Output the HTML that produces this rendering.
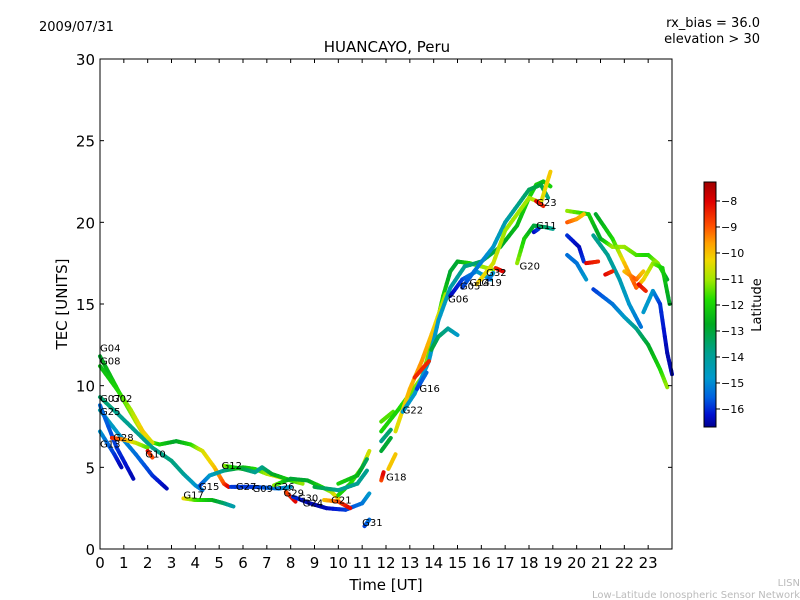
<!DOCTYPE html>
<html><head><meta charset="utf-8"><style>
body{margin:0;background:#fff;font-family:"DejaVu Sans","Liberation Sans",sans-serif;}
svg{display:block}
</style></head><body>
<svg id="chart" width="800" height="600" xmlns="http://www.w3.org/2000/svg" font-family="DejaVu Sans, Liberation Sans, sans-serif">
<defs><linearGradient id="cbg" x1="0" y1="0" x2="0" y2="1">
<stop offset="0" stop-color="#a00000"/><stop offset="0.08" stop-color="#e00000"/><stop offset="0.18" stop-color="#ff5000"/><stop offset="0.25" stop-color="#ffa000"/><stop offset="0.32" stop-color="#f0d800"/><stop offset="0.40" stop-color="#a0e800"/><stop offset="0.48" stop-color="#20dd00"/><stop offset="0.58" stop-color="#00aa20"/><stop offset="0.70" stop-color="#00a090"/><stop offset="0.80" stop-color="#0099cc"/><stop offset="0.88" stop-color="#0060e0"/><stop offset="0.95" stop-color="#0010d0"/><stop offset="1" stop-color="#000090"/></linearGradient></defs>
<text x="39" y="31" font-size="13">2009/07/31</text>
<text x="760" y="27" font-size="13" text-anchor="end">rx_bias = 36.0</text>
<text x="760" y="43" font-size="13" text-anchor="end">elevation &gt; 30</text>
<text x="387" y="52" font-size="15" text-anchor="middle">HUANCAYO, Peru</text>
<g id="marks"></g>
<rect x="100" y="59" width="572" height="490" fill="none" stroke="#000" stroke-width="1"/>
<g id="axes"></g>
<text x="386" y="590" font-size="15" text-anchor="middle">Time [UT]</text>
<text transform="translate(67,304) rotate(-90)" font-size="15" text-anchor="middle">TEC [UNITS]</text>
<rect x="704" y="182" width="12" height="245" fill="url(#cbg)" stroke="#000" stroke-width="1"/>
<g id="cbticks"></g>
<text transform="translate(761,305) rotate(-90)" font-size="13" text-anchor="middle">Latitude</text>
<text x="800" y="586" font-size="10" fill="#bbb" text-anchor="end">LISN</text>
<text x="800" y="598" font-size="10" fill="#bbb" text-anchor="end">Low-Latitude Ionospheric Sensor Network</text>
</svg>
<script>
const xTicks=[0,1,2,3,4,5,6,7,8,9,10,11,12,13,14,15,16,17,18,19,20,21,22,23];
const yTicks=[0,5,10,15,20,25,30];
const cbTicks=[-8,-9,-10,-11,-12,-13,-14,-15,-16];
// tracks: [hour, tec, latitude]
const tracks=[
[[0,11.8,-13],[0.8,9.6,-12],[1.5,7.8,-11],[2.0,6.6,-10.5],[2.5,6.4,-12],[3.2,6.6,-13],[3.8,6.4,-12],[4.3,6.0,-10.5],[4.8,5.0,-10],[5.2,4.0,-9],[5.4,3.8,-8]],
[[0,11.2,-12.5],[0.7,9.8,-12],[1.3,8.5,-11],[1.8,7.2,-10],[2.2,6.5,-10.5]],
[[0,9.3,-13.5],[0.8,8.2,-14],[1.5,7.2,-14],[2.2,6.2,-14],[3,5.4,-13.8],[3.5,4.6,-14],[4,3.9,-15],[4.3,3.6,-15.5]],
[[0,8.5,-14.5],[0.8,7,-15],[1.5,5.8,-15.5],[2.2,4.5,-16],[2.8,3.7,-16.5]],
[[0,7.2,-15],[0.6,5.8,-16],[0.9,5,-16.5]],
[[0,8.8,-15.5],[0.7,6.2,-16],[1.4,4.3,-16.5]],
[[0.5,6.8,-8.3],[1,6.7,-9.5],[1.5,6.5,-10.5],[2,6.2,-11.5]],
[[2,6.0,-8],[2.2,5.6,-9]],
[[3.5,3.1,-10],[4,3.0,-11.5],[4.7,3.0,-12.5],[5.2,2.8,-13.5],[5.6,2.6,-14.5]],
[[4.2,3.9,-16],[4.6,4.5,-15],[5.2,4.8,-14],[6,5.0,-12.5],[6.5,4.9,-12],[7,4.6,-11],[7.8,4.3,-10]],
[[5.2,5.1,-11],[6,4.9,-13],[6.5,4.7,-14],[6.8,5.0,-14],[7.2,4.6,-13],[8,4.2,-12],[8.5,4.0,-11]],
[[5.5,3.8,-16],[6.5,3.8,-16],[7.5,3.7,-15.5],[8,3.8,-15]],
[[7.3,3.9,-11],[8,4.3,-13],[8.7,4.2,-13],[9.3,3.8,-12],[9.7,3.5,-11],[10,3.1,-10]],
[[7.8,3.5,-9],[8.2,2.9,-8]],
[[8.1,3.2,-16],[8.8,2.8,-16.5],[9.5,2.5,-16.5],[10.3,2.4,-16],[11,2.8,-15.5],[11.3,3.4,-15]],
[[9.4,3.0,-10],[10,2.9,-9],[10.5,2.5,-8]],
[[10,3.3,-12],[10.5,4.0,-12],[11,5.0,-11],[11.3,6.0,-10.5]],
[[9,3.8,-13],[10,3.6,-14],[10.8,4.0,-14],[11.2,4.8,-14]],
[[10,4.0,-12],[10.8,4.5,-12.5],[11.2,5.5,-13.5]],
[[11.1,1.4,-16],[11.3,1.8,-15.5]],
[[11.8,4.2,-9],[11.9,4.7,-8]],
[[11.8,6.6,-14],[12.2,7.3,-13.5]],
[[11.8,6.0,-13],[12.2,6.8,-13]],
[[11.8,7.8,-11.5],[12.3,8.4,-11.5]],
[[12.1,4.9,-10],[12.4,5.8,-10]],
[[11.8,7.2,-12],[12.5,8.5,-12],[13,9.5,-11.5],[13.5,10.5,-11],[14,13,-11.5],[14.4,15.5,-12],[14.7,17,-13],[15,17.6,-13],[15.5,17.5,-12],[16,17.3,-11],[16.5,17.1,-11]],
[[12.4,7.2,-10.5],[13,9.8,-9.8],[13.5,11.5,-9.5],[14,13.5,-10],[14.5,15.6,-11]],
[[12.7,8.4,-15],[13.2,9.5,-15],[13.8,11.5,-15],[14.2,14,-15],[14.7,16,-14.5],[15.3,17.3,-14],[16,17.6,-13.5],[16.8,18.5,-13],[17.5,19.8,-12.5],[18,21.5,-12],[18.3,22.3,-12],[18.6,22.5,-12.5],[18.9,22.2,-12]],
[[13.3,9.8,-16],[13.7,10.8,-15.5]],
[[13.2,10.5,-8.5],[13.8,11.5,-8.5]],
[[13.9,12.2,-13],[14.2,13,-13.5],[14.6,13.5,-14],[15,13.1,-15]],
[[14.7,15.5,-16.5],[15.2,16.5,-16],[15.8,17,-15],[16.4,16.5,-15]],
[[15.2,16,-16],[15.7,17,-15.5],[16.5,18.5,-15],[17,20,-14.5],[17.5,21,-14],[18,22,-13.5],[18.5,22.3,-13],[18.8,21.5,-14]],
[[15.8,16.2,-10],[16.5,17.5,-10.5],[17,19.5,-11],[17.5,20.5,-11],[18,21.5,-11],[18.5,21.2,-10.5],[18.9,23.1,-10]],
[[17.5,17.5,-11],[17.8,19,-12],[18.2,19.8,-13],[18.7,19.7,-13.5],[19,19.6,-14]],
[[16.3,16.5,-16],[16.5,16.9,-15]],
[[16.6,17.2,-8.5],[16.9,17,-8]],
[[18.3,21.3,-8],[18.6,21,-8.5]],
[[18.2,19.4,-16.5],[18.4,19.6,-16]],
[[19.6,20.7,-11],[20.5,20.5,-12],[21,19,-13],[21.5,18.5,-11],[22,18.5,-11],[22.5,18,-11.5],[23,18,-12],[23.4,17.5,-11],[23.8,16.5,-13]],
[[20.8,20.5,-13],[21.5,19,-12],[22,17.5,-10],[22.5,16,-9],[22.8,16.5,-10],[23.2,17.5,-11],[23.6,17.2,-12],[23.9,15,-13]],
[[19.6,20.0,-9],[20,20.2,-9.5],[20.3,20.5,-10]],
[[19.6,19.2,-16],[20.1,18.5,-16.5],[20.3,17.6,-16]],
[[20.4,17.5,-8],[20.9,17.6,-8.5]],
[[19.6,18,-15.5],[20,17.5,-15.5],[20.4,16.5,-15]],
[[20.7,15.9,-16],[21.5,15,-15.5],[22,14.2,-15],[22.5,13.5,-14],[23,12.5,-13],[23.5,11,-12],[23.8,9.9,-11]],
[[20.7,19.2,-14],[21.3,18,-14],[21.8,16.5,-14.5],[22.2,15,-15],[22.7,13.6,-15.5]],
[[22,17,-10],[22.5,16.5,-9],[22.8,17,-10]],
[[22.8,14.5,-15],[23.2,15.8,-15],[23.5,15,-16],[23.8,12,-16.5],[24,10.7,-16.5]],
[[21.2,16.8,-8],[21.5,17,-8.5]],
[[22.6,16.2,-8],[22.9,15.8,-8.5]]
];
const labelNames=["G04","G08","G07","G02","G25","G13","G28","G10","G17","G15","G12","G27","G09","G26","G29","G30","G24","G21","G31","G18","G22","G16","G06","G05","G14","G19","G32","G20","G23","G11"];
const labelPos=[[0,12.1],[0,11.3],[0,9.0],[0.5,9.0],[0,8.2],[0,6.2],[0.55,6.6],[1.9,5.6],[3.5,3.1],[4.15,3.6],[5.1,4.9],[5.7,3.6],[6.4,3.5],[7.3,3.6],[7.7,3.2],[8.3,2.9],[8.5,2.6],[9.7,2.8],[11.0,1.4],[12.0,4.2],[12.7,8.3],[13.4,9.6],[14.6,15.1],[15.1,15.9],[15.5,16.1],[16.0,16.1],[16.2,16.7],[17.6,17.1],[18.3,21.0],[18.3,19.6]];
const X=h=>100+h*572/24, Y=v=>549-v*490/30;
const stops=[[-7.3,[160,0,0]],[-8,[224,0,0]],[-9,[255,80,0]],[-9.6,[255,160,0]],[-10.2,[240,216,0]],[-11,[160,232,0]],[-11.8,[32,221,0]],[-12.8,[0,170,32]],[-14,[0,160,144]],[-15,[0,153,204]],[-15.7,[0,96,224]],[-16.3,[0,16,208]],[-16.7,[0,0,144]]];
function col(l){for(let i=0;i<stops.length-1;i++){const a=stops[i],b=stops[i+1];if(l<=a[0]&&l>=b[0]){const t=(a[0]-l)/(a[0]-b[0]);return 'rgb('+a[1].map((c,k)=>Math.round(c+(b[1][k]-c)*t)).join(',')+')';}}return l>-7.3?'rgb(160,0,0)':'rgb(0,0,144)';}
const NS='http://www.w3.org/2000/svg';
const marks=document.getElementById('marks');
tracks.forEach((tr,ti)=>{
  const g=document.createElementNS(NS,'g');
  
  
  for(let i=0;i<tr.length-1;i++){
    const a=tr[i],b=tr[i+1],n=6;
    for(let k=0;k<n;k++){
      const t0=k/n,t1=(k+1)/n;
      const ln=document.createElementNS(NS,'line');
      
      
      ln.setAttribute('x1',X(a[0]+(b[0]-a[0])*t0));ln.setAttribute('y1',Y(a[1]+(b[1]-a[1])*t0));
      ln.setAttribute('x2',X(a[0]+(b[0]-a[0])*t1));ln.setAttribute('y2',Y(a[1]+(b[1]-a[1])*t1));
      ln.setAttribute('stroke',col(a[2]+(b[2]-a[2])*(t0+t1)/2));
      ln.setAttribute('stroke-width','4');ln.setAttribute('stroke-linecap','round');
      g.appendChild(ln);
    }
  }
  marks.appendChild(g);
});
labelNames.forEach((nm,i)=>{
  const t=document.createElementNS(NS,'text');
  
  
  t.setAttribute('x',X(labelPos[i][0]));t.setAttribute('y',Y(labelPos[i][1]));
  t.setAttribute('font-size','10');t.textContent=nm;marks.appendChild(t);
});
const axes=document.getElementById('axes');
xTicks.forEach(h=>{
  const x=X(h);
  [[549,545],[59,63]].forEach(([a,b])=>{const l=document.createElementNS(NS,'line');
  
  
  l.setAttribute('x1',x);l.setAttribute('x2',x);l.setAttribute('y1',a);l.setAttribute('y2',b);l.setAttribute('stroke','#000');axes.appendChild(l);});
  const t=document.createElementNS(NS,'text');
  
  
  t.setAttribute('x',x);t.setAttribute('y',568);t.setAttribute('font-size','15');t.setAttribute('text-anchor','middle');t.textContent=h;axes.appendChild(t);
});
yTicks.forEach(v=>{
  const y=Y(v);
  [[100,104],[672,668]].forEach(([a,b])=>{const l=document.createElementNS(NS,'line');
  
  
  l.setAttribute('x1',a);l.setAttribute('x2',b);l.setAttribute('y1',y);l.setAttribute('y2',y);l.setAttribute('stroke','#000');axes.appendChild(l);});
  const t=document.createElementNS(NS,'text');
  
  
  t.setAttribute('x',95);t.setAttribute('y',y+6);t.setAttribute('font-size','15');t.setAttribute('text-anchor','end');t.textContent=v;axes.appendChild(t);
});
const cb=document.getElementById('cbticks');
cbTicks.forEach(v=>{
  const y=182+(-7.27-v)*26;
  const l=document.createElementNS(NS,'line');
  
  
  l.setAttribute('x1',716);l.setAttribute('x2',720);l.setAttribute('y1',y);l.setAttribute('y2',y);l.setAttribute('stroke','#000');cb.appendChild(l);
  const t=document.createElementNS(NS,'text');
  
  
  t.setAttribute('x',721);t.setAttribute('y',y+4);t.setAttribute('font-size','11');t.textContent='\u2212'+(-v);cb.appendChild(t);
});
</script>
</body></html>
